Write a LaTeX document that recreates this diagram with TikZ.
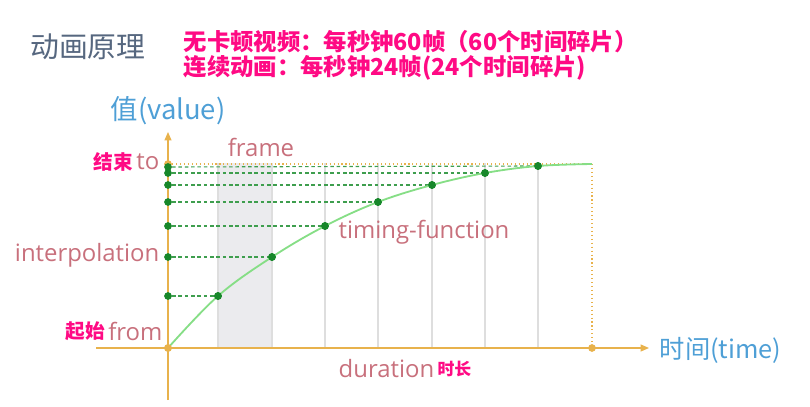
\documentclass[tikz,border=0pt]{standalone}
\usepackage{fontspec}
\setmainfont{Open Sans}
\newfontfamily\cjk{Noto Sans CJK SC}
\usetikzlibrary{arrows.meta}

\definecolor{axisorange}{HTML}{E8B24C}
\definecolor{curvegreen}{HTML}{86DE86}
\definecolor{dotgreen}{HTML}{17872A}
\definecolor{dashgreen}{HTML}{3E9E4E}
\definecolor{labelred}{HTML}{C8707C}
\definecolor{noteblue}{HTML}{4E9FD6}
\definecolor{notepink}{HTML}{FF0A84}
\definecolor{titlegray}{HTML}{56677F}
\definecolor{gridgray}{HTML}{DEDEDE}
\definecolor{shadegray}{HTML}{EBEBEE}

\begin{document}
\begin{tikzpicture}[x=0.025cm, y=-0.025cm,
                    dot/.style={circle, fill=dotgreen, inner sep=0pt, minimum size=5.5pt},
                    enddot/.style={circle, fill=axisorange, inner sep=0pt, minimum size=5.5pt},
                    axis/.style={-{Triangle[length=6pt, width=5pt]}, thick, axisorange},
                    level/.style={dashed, dash pattern=on 2.5pt off 2pt, thick, dashgreen},
                    bound/.style={dotted, thick, axisorange},
                    tick/.style={gridgray, thick},
                    label/.style={labelred, font=\fontsize{17}{19}\selectfont, inner sep=1pt},
                    axislabel/.style={noteblue, font=\fontsize{18}{20}\selectfont\cjk, inner sep=1pt},
                    note/.style={notepink, font=\fontsize{16.6}{19}\selectfont\cjk\bfseries, inner sep=1pt}]

    \useasboundingbox (0,0) rectangle (810,407);

    % frame shade and time slices
    \fill[shadegray] (218,163) rectangle (272,348);
    \draw[tick] (218,163) -- (218,348);
    \draw[tick] (272,163) -- (272,348);
    \draw[tick] (325,163) -- (325,348);
    \draw[tick] (378,163) -- (378,348);
    \draw[tick] (432,163) -- (432,348);
    \draw[tick] (485,163) -- (485,348);
    \draw[tick] (538,163) -- (538,348);

    % axes
    \coordinate (ybot) at (168,400);
    \coordinate (ytop) at (168,132);
    \coordinate (xleft) at (96,348);
    \coordinate (xright) at (649,348);
    \draw[axis] (ybot) -- (ytop);
    \draw[axis] (xleft) -- (xright);

    \node[enddot] (from) at (168,348) {};
    \node[enddot] (to)   at (168,164) {};
    \node[enddot] (end)  at (592,348) {};
    \coordinate (corner) at (592,164);

    % curve points
    \node[dot] (p1) at (218,296) {};
    \node[dot] (p2) at (272,257) {};
    \node[dot] (p3) at (325,226) {};
    \node[dot] (p4) at (378,202) {};
    \node[dot] (p5) at (432,185) {};
    \node[dot] (p6) at (485,173) {};
    \node[dot] (p7) at (538,166) {};

    % values on the axis
    \node[dot] (v1) at (168,296) {};
    \node[dot] (v2) at (168,257) {};
    \node[dot] (v3) at (168,226) {};
    \node[dot] (v4) at (168,202) {};
    \node[dot] (v5) at (168,185) {};
    \node[dot] (v6) at (168,173) {};
    \node[dot] (v7) at (168,167) {};

    \draw[level] (v1) -- (p1);
    \draw[level] (v2) -- (p2);
    \draw[level] (v3) -- (p3);
    \draw[level] (v4) -- (p4);
    \draw[level] (v5) -- (p5);
    \draw[level] (v6) -- (p6);
    \draw[level] (v7) -- (p7);

    \draw[bound] (to) -- (corner);
    \draw[bound] (corner) -- (end);

    % timing function
    \draw[curvegreen, line width=1.3pt] plot[smooth, tension=0.6] coordinates
        {(168,348) (218,296) (272,257) (325,226) (378,202) (432,185) (485,173) (538,166) (592,164)};
    \node[dot] at (p1) {};
    \node[dot] at (p2) {};
    \node[dot] at (p3) {};
    \node[dot] at (p4) {};
    \node[dot] at (p5) {};
    \node[dot] at (p6) {};
    \node[dot] at (p7) {};
    \node[enddot] at (from) {};

    % texts
    \node[titlegray, font=\fontsize{20.5}{22}\selectfont\cjk, anchor=west, inner sep=0pt] (title) at (30,47) {动画原理};
    \node[note, anchor=west] (fps60) at (182,42) {无卡顿视频：每秒钟60帧（60个时间碎片）};
    \node[note, anchor=west] (fps24) at (182,68) {连续动画：每秒钟24帧(24个时间碎片)};

    \node[axislabel, font=\fontsize{19.5}{21}\selectfont\cjk] (value) at (168,111) {值(value)};
    \node[axislabel, anchor=west] (time) at (658,350) {时间(time)};

    \node[label] (framelabel) at (261,147) {frame};
    \node[label, anchor=east] (tolabel) at (161,162) {to};
    \node[note, anchor=east, font=\fontsize{14}{16}\selectfont\cjk\bfseries] (tonote) at (tolabel.west) {结束};
    \node[label, anchor=east] (interp) at (161,255) {interpolation};
    \node[label, anchor=west] (timing) at (337,232) {timing-function};
    \node[label, anchor=east] (fromlabel) at (164,331) {from};
    \node[note, anchor=east, font=\fontsize{14}{16}\selectfont\cjk\bfseries] (fromnote) at (fromlabel.west) {起始};
    \node[label, anchor=west] (duration) at (337,369) {duration};
    \node[note, anchor=west, font=\fontsize{12}{14}\selectfont\cjk\bfseries] (durnote) at (duration.east) {时长};
\end{tikzpicture}
\end{document}
